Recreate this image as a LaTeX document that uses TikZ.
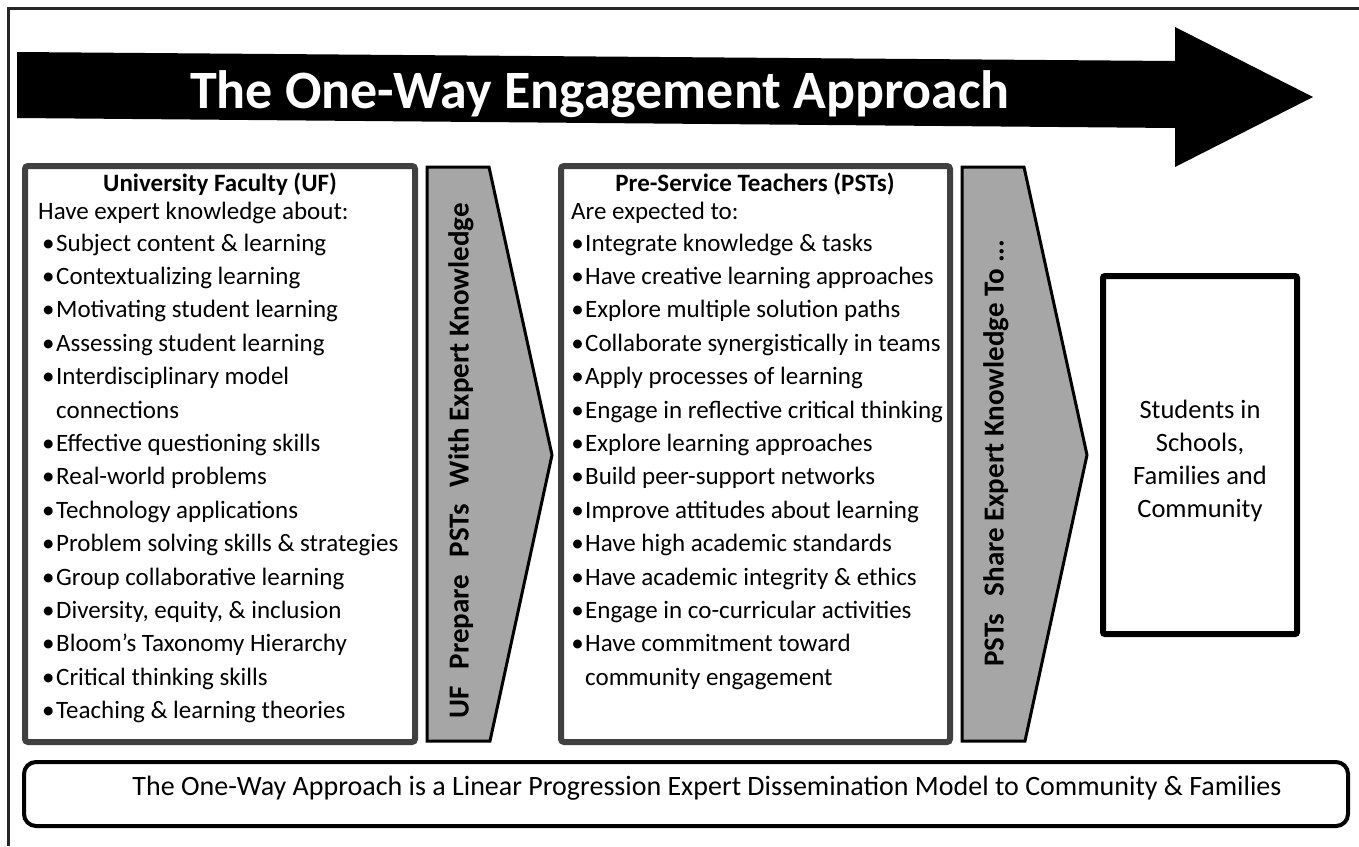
\documentclass[tikz,border=0pt]{standalone}
\usepackage{fontspec}
\setmainfont{Carlito}
\newcommand{\bitem}[1]{\makebox[16pt][r]{\textbullet\hspace{1.5pt}}#1}
\newcommand{\citem}[1]{\hspace*{16pt}#1}
\begin{document}
\begin{tikzpicture}[x=1pt,y=-1pt,
  frameline/.style={draw=black!85,line width=3pt},
  grayboxstyle/.style={draw=black!75,line width=6pt,rounded corners=3pt,fill=white},
  blackboxstyle/.style={draw=black,line width=6pt,rounded corners=2pt,fill=white},
  notebox/.style={draw=black,line width=4pt,rounded corners=12pt,fill=white},
  grayarrow/.style={draw=black,line width=3pt,fill=black!35,line join=miter},
  bodytext/.style={font=\fontsize{25}{30}\selectfont,inner sep=0pt,anchor=base west},
  centertext/.style={font=\fontsize{26.5}{30}\selectfont,inner sep=0pt,anchor=base},
  headtext/.style={font=\bfseries\fontsize{25}{30}\selectfont,inner sep=0pt,anchor=base},
  vlabel/.style={font=\bfseries\fontsize{29}{32}\selectfont,inner sep=0pt,rotate=90,anchor=center}]
\useasboundingbox (0,0) rectangle (1359,846);
% outer frame (top and left)
\draw[frameline] (8,846) -- (8,8) -- (1359,8);
% big black arrow
\fill[black] (17,52) -- (1175,61) -- (1175,27) -- (1313,97) -- (1175,167) -- (1175,128) -- (17,118) -- cycle;
\node[font=\bfseries\fontsize{54}{60}\selectfont,text=white,inner sep=0pt,anchor=base] (title) at (600,108) {The One-Way Engagement Approach};
% boxes
\draw[grayboxstyle] (25,166) rectangle (415,742);
\draw[grayarrow] (427,167) -- (489,167) -- (552,455) -- (490,741) -- (427,741) -- cycle;
\draw[grayboxstyle] (561,166) rectangle (950,742);
\draw[grayarrow] (962,167) -- (1024,167) -- (1087,455) -- (1025,741) -- (962,741) -- cycle;
\draw[blackboxstyle] (1103,276) rectangle (1297,634);
\draw[notebox] (24,762) rectangle (1348,826);
% arrow labels
\node[vlabel] (uflabel) at (461,461) {UF\hspace{0.6em}Prepare\hspace{0.6em}PSTs\hspace{0.6em}With Expert Knowledge};
\node[vlabel] (pstlabel) at (996,453) {PSTs\hspace{0.6em}Share Expert Knowledge To ...};
% left box
\node[headtext] (ufhead) at (220,191) {University Faculty (UF)};
\node[bodytext] (ufintro) at (38,219) {Have expert knowledge about:};
\foreach \t [count=\i from 0] in {
  {\bitem{Subject content \& learning}},
  {\bitem{Contextualizing learning}},
  {\bitem{Motivating student learning}},
  {\bitem{Assessing student learning}},
  {\bitem{Interdisciplinary model}},
  {\citem{connections}},
  {\bitem{Effective questioning skills}},
  {\bitem{Real-world problems}},
  {\bitem{Technology applications}},
  {\bitem{Problem solving skills \& strategies}},
  {\bitem{Group collaborative learning}},
  {\bitem{Diversity, equity, \& inclusion}},
  {\bitem{Bloom’s Taxonomy Hierarchy}},
  {\bitem{Critical thinking skills}},
  {\bitem{Teaching \& learning theories}}}
  \node[bodytext] (uf\i) at (40,{251+33.4*\i}) {\t};
% middle box
\node[headtext] (psthead) at (755,191) {Pre-Service Teachers (PSTs)};
\node[bodytext] (pstintro) at (571,219) {Are expected to:};
\foreach \t [count=\i from 0] in {
  {\bitem{Integrate knowledge \& tasks}},
  {\bitem{Have creative learning approaches}},
  {\bitem{Explore multiple solution paths}},
  {\bitem{Collaborate synergistically in teams}},
  {\bitem{Apply processes of learning}},
  {\bitem{Engage in reflective critical thinking}},
  {\bitem{Explore learning approaches}},
  {\bitem{Build peer-support networks}},
  {\bitem{Improve attitudes about learning}},
  {\bitem{Have high academic standards}},
  {\bitem{Have academic integrity \& ethics}},
  {\bitem{Engage in co-curricular activities}},
  {\bitem{Have commitment toward}},
  {\citem{community engagement}}}
  \node[bodytext] (pst\i) at (569,{251+33.4*\i}) {\t};
% right box
\foreach \t [count=\i from 0] in {Students in,{Schools,},Families and,Community}
  \node[centertext] (stu\i) at (1200,{418+33*\i}) {\t};
% note
\node[centertext,font=\fontsize{28}{32}\selectfont] (note) at (707,795) {The One-Way Approach is a Linear Progression Expert Dissemination Model to Community \& Families};
\end{tikzpicture}
\end{document}
